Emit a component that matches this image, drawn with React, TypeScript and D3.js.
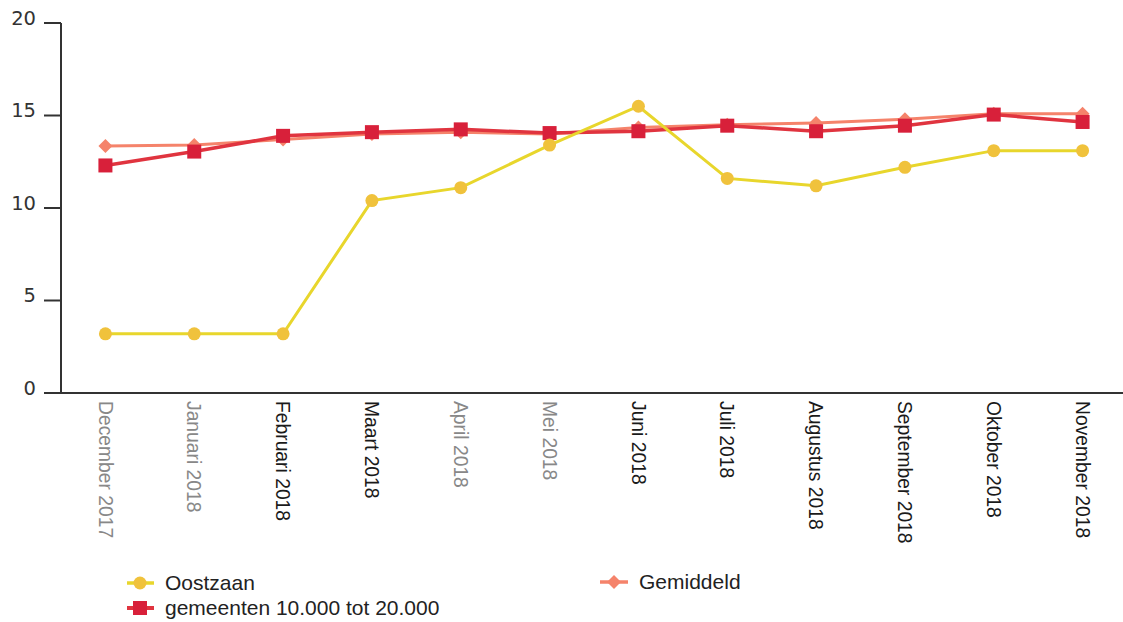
import React from "react";
import * as d3 from "d3";

const months = [
  "December 2017",
  "Januari 2018",
  "Februari 2018",
  "Maart 2018",
  "April 2018",
  "Mei 2018",
  "Juni 2018",
  "Juli 2018",
  "Augustus 2018",
  "September 2018",
  "Oktober 2018",
  "November 2018",
];
// labels that came out lighter in the scan
const greyLabels = ["December 2017", "Januari 2018", "April 2018", "Mei 2018"];

const oostzaan = [3.2, 3.2, 3.2, 10.4, 11.1, 13.4, 15.5, 11.6, 11.2, 12.2, 13.1, 13.1];
const gemeenten = [12.3, 13.05, 13.9, 14.1, 14.25, 14.05, 14.15, 14.45, 14.15, 14.45, 15.05, 14.65];
const gemiddeld = [13.35, 13.4, 13.7, 14.0, 14.1, 14.0, 14.35, 14.5, 14.6, 14.8, 15.1, 15.1];
const yTicks = [0, 5, 10, 15, 20];

const W = 1123;
const H = 622;
const margin = { top: 23, left: 61, right: 0, bottom: 229 };

const YELLOW_LINE = "#E8D62C";
const YELLOW_DOT = "#F0C23C";
const RED_LINE = "#E0343F";
const RED_SQ = "#D8203A";
const SALMON = "#F5836B";

export default function App() {
  const x = d3
    .scaleBand<string>()
    .domain(months)
    .range([margin.left, 1127]);
  const cx = (m: string) => (x(m) ?? 0) + x.bandwidth() / 2;

  const y = d3
    .scaleLinear()
    .domain([0, 20])
    .range([H - margin.bottom, margin.top]);

  const line = d3
    .line<number>()
    .x((_, i) => cx(months[i]))
    .y((d) => y(d));

  const diamond = (px: number, py: number, r: number) =>
    `M${px},${py - r}L${px + r},${py}L${px},${py + r}L${px - r},${py}Z`;

  const baseY = y(0);

  return (
    <div style={{ position: "absolute", left: 0, top: 0 }}>
      <svg width={W} height={H} style={{ display: "block", background: "#fff" }}>
        {/* y axis */}
        <line x1={margin.left} x2={margin.left} y1={y(20)} y2={baseY} stroke="#333" strokeWidth={2} />
        {yTicks.map((t) => (
          <g key={t}>
            <line x1={44} x2={margin.left} y1={y(t)} y2={y(t)} stroke="#333" strokeWidth={2} />
            <text
              x={36}
              y={y(t)}
              dy="0.1em"
              textAnchor="end"
              fontFamily="DejaVu Sans"
              fontSize={19.5}
              fill="#333"
            >
              {t}
            </text>
          </g>
        ))}
        {/* x axis */}
        <line x1={44} x2={W} y1={baseY} y2={baseY} stroke="#333" strokeWidth={2.2} />
        {months.map((m) => (
          <text
            key={m}
            transform={`translate(${cx(m)},${baseY + 8}) rotate(90)`}
            dy="0.35em"
            fontFamily="Liberation Sans"
            fontSize={19.3}
            fill={greyLabels.includes(m) ? "#888" : "#1a1a1a"}
          >
            {m}
          </text>
        ))}

        {/* Gemiddeld */}
        <path d={line(gemiddeld) ?? ""} fill="none" stroke={SALMON} strokeWidth={3} />
        {gemiddeld.map((v, i) => (
          <path key={i} d={diamond(cx(months[i]), y(v), 7)} fill={SALMON} />
        ))}

        {/* gemeenten 10.000 tot 20.000 */}
        <path d={line(gemeenten) ?? ""} fill="none" stroke={RED_LINE} strokeWidth={3.5} />
        {gemeenten.map((v, i) => (
          <rect key={i} x={cx(months[i]) - 7} y={y(v) - 7} width={14} height={14} fill={RED_SQ} />
        ))}

        {/* Oostzaan */}
        <path d={line(oostzaan) ?? ""} fill="none" stroke={YELLOW_LINE} strokeWidth={3} />
        {oostzaan.map((v, i) => (
          <circle key={i} cx={cx(months[i])} cy={y(v)} r={6.5} fill={YELLOW_DOT} />
        ))}

        {/* legend */}
        <g fontFamily="Liberation Sans" fontSize={21} fill="#222">
          <line x1={127} x2={154} y1={583} y2={583} stroke={YELLOW_LINE} strokeWidth={3.5} />
          <circle cx={140} cy={583} r={6.5} fill={YELLOW_DOT} />
          <text x={165} y={583} dy="0.35em">Oostzaan</text>

          <line x1={127} x2={154} y1={608} y2={608} stroke={RED_LINE} strokeWidth={4} />
          <rect x={133} y={601} width={14} height={14} fill={RED_SQ} />
          <text x={165} y={608} dy="0.35em">gemeenten 10.000 tot 20.000</text>

          <line x1={600} x2={628} y1={582} y2={582} stroke={SALMON} strokeWidth={3.5} />
          <path d={diamond(614, 582, 7)} fill={SALMON} />
          <text x={639} y={582} dy="0.35em">Gemiddeld</text>
        </g>
      </svg>
    </div>
  );
}
